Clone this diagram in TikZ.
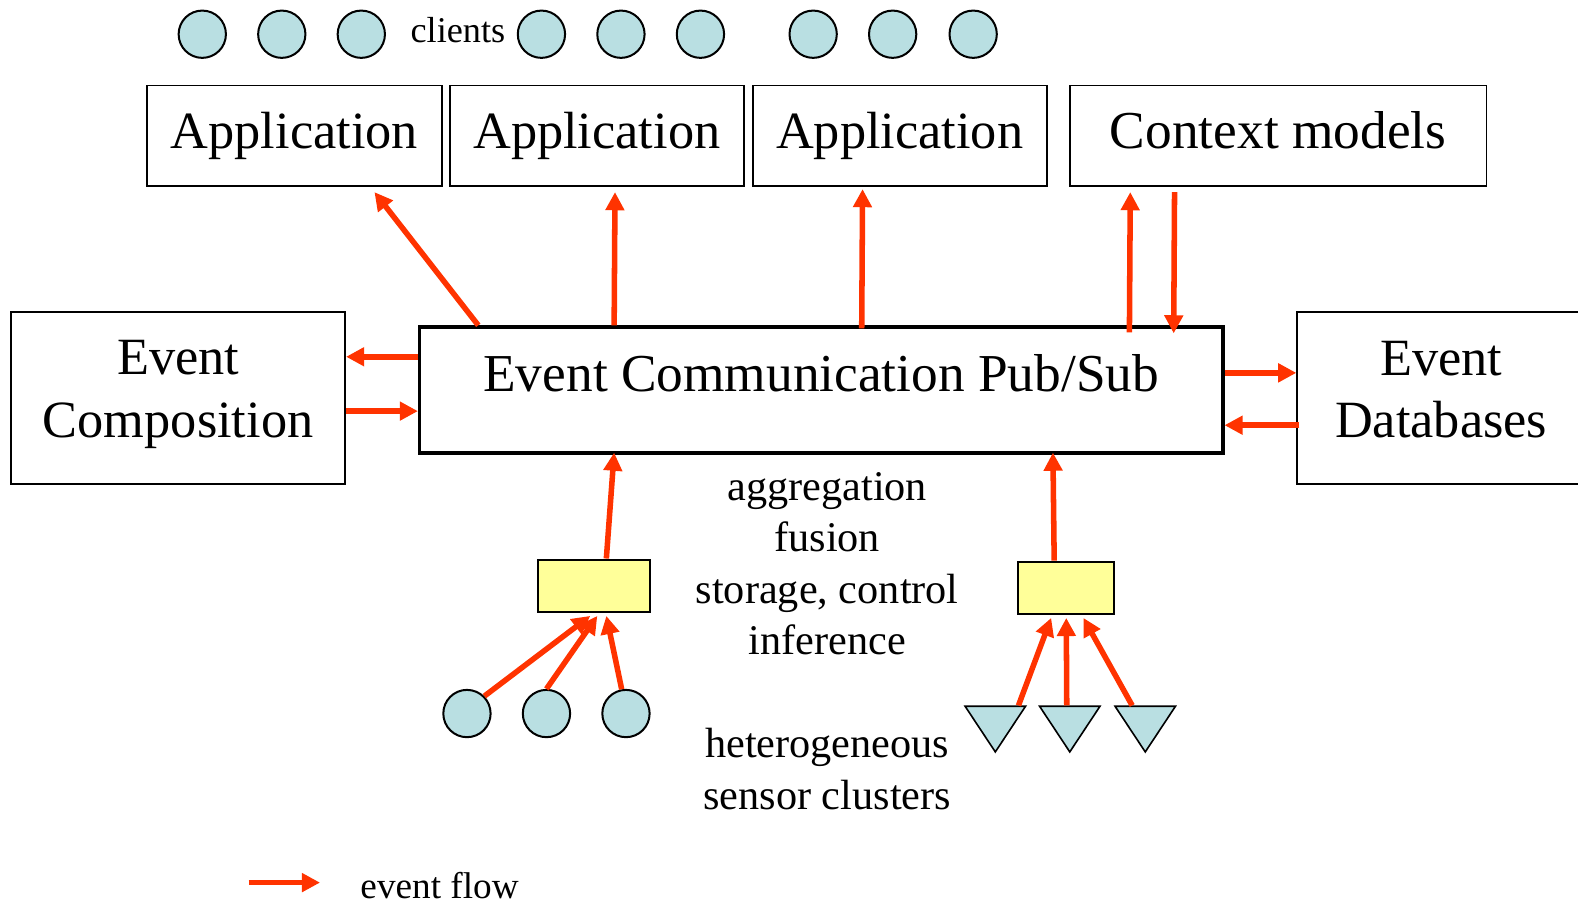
\documentclass[tikz,border=0pt]{standalone}
\usepackage{fontspec}
\setmainfont{Liberation Serif}
\usetikzlibrary{arrows.meta,shapes.geometric}
\definecolor{flowred}{RGB}{255,51,0}
\definecolor{clientblue}{RGB}{185,223,226}
\definecolor{aggyellow}{RGB}{255,255,153}
\begin{document}
\begin{tikzpicture}[x=1pt,y=-1pt,
  flow/.style={draw=flowred,line width=5.5pt,-{Triangle[length=18pt,width=18pt]}},
  client/.style={circle,draw=black,line width=2pt,fill=clientblue,minimum size=47pt,inner sep=0pt},
  sensor/.style={isosceles triangle,isosceles triangle apex angle=67,shape border rotate=-90,draw=black,line width=1.6pt,fill=clientblue,minimum width=60pt,minimum height=45pt,inner sep=0pt,anchor=north},
  agg/.style={draw=black,line width=2pt,fill=aggyellow,inner sep=0pt},
  bigbox/.style={draw=black,line width=1.8pt,inner sep=0pt,font=\fontsize{52}{64}\selectfont,align=center},
  appbox/.style={bigbox,minimum height=100pt,text height=36pt,text depth=11pt},
  lbl/.style={inner sep=0pt,align=center}]
\useasboundingbox (0,0) rectangle (1568,898);
% clients
\foreach \x/\n in {201/c1,280/c2,359/c3,538/c4,617/c5,696/c6,808/c7,887/c8,967/c9}
  \node[client] (\n) at (\x,34) {};
\node[lbl,font=\fontsize{36}{40}\selectfont] (clients) at (455,30) {clients};
% applications
\node[appbox,minimum width=293pt] (a1) at (292.5,135) {Application};
\node[appbox,minimum width=292pt] (a2) at (593,135) {Application};
\node[appbox,minimum width=292pt] (a3) at (894,135) {Application};
\node[appbox,minimum width=414pt,font=\fontsize{53}{64}\selectfont] (ctx) at (1270,135) {Context models};
% side boxes
\node[bigbox,minimum width=332pt,minimum height=171pt] (comp) at (177,395.5) {};
\node[lbl,font=\fontsize{52}{64}\selectfont] (comptext) at (177,392) {Event\\[-2pt]Composition};
\node[bigbox,minimum width=330pt,minimum height=171pt] (db) at (1454,395.5) {};
\node[lbl,font=\fontsize{52}{64}\selectfont] (dbtext) at (1432,387) {Event\\[-2pt]Databases};
% pub/sub
\node[draw=black,line width=3.5pt,minimum width=798pt,minimum height=125pt,inner sep=0pt] (pub) at (816,387.5) {};
\node[lbl,font=\fontsize{53}{60}\selectfont] (pubtext) at (816,371) {Event Communication Pub/Sub};
% aggregators
\node[agg,minimum width=111pt,minimum height=52pt] (y1) at (590.5,582) {};
\node[agg,minimum width=95pt,minimum height=52pt] (y2) at (1059.5,584) {};
% bottom clients
\node[client] (b1) at (464,709) {};
\node[client] (b2) at (543,709) {};
\node[client] (b3) at (622,709) {};
% sensors
\node[sensor] (s1) at (989,701) {};
\node[sensor] (s2) at (1063,701) {};
\node[sensor] (s3) at (1138,701) {};
% texts
\node[lbl,font=\fontsize{42}{51}\selectfont] (proc) at (822,560) {aggregation\\fusion\\storage, control\\inference};
\node[lbl,font=\fontsize{42}{51}\selectfont] (het) at (822,764) {heterogeneous\\sensor clusters};
% arrows up to apps
\draw[flow] ([xshift=60]pub.north west) -- ([xshift=227,yshift=-5]a1.south west);
\draw[flow] ([xshift=195]pub.north west) -- ([xshift=165,yshift=-5]a2.south west);
\draw[flow] ([xshift=441,yshift=-3]pub.north west) -- ([xshift=110,yshift=-2]a3.south west);
\draw[flow] ([xshift=707,yshift=-7]pub.north west) -- ([xshift=61,yshift=-5]ctx.south west);
\draw[flow] ([xshift=105,yshift=-5]ctx.south west) -- ([xshift=751,yshift=-8]pub.north west);
% side arrows
\draw[flow] ([yshift=33]pub.west) -- ([yshift=33]pub.west -| comp.east);
\draw[flow] ([yshift=-13]comp.east) -- ([yshift=-13]comp.east -| pub.west);
\draw[flow] ([yshift=17]pub.east) -- ([yshift=17]pub.east -| db.west);
\draw[flow] ([yshift=-27,xshift=3]db.west) -- ([yshift=-27]db.west -| pub.east);
% aggregators to pub
\draw[flow] ([xshift=12]y1.north) -- ([xshift=195,yshift=2]pub.south west);
\draw[flow] ([xshift=-12]y2.north) -- ([xshift=631,yshift=2]pub.south west);
% clients to y1
\draw[flow] (b1.45) -- ([xshift=-4,yshift=-3]y1.south);
\draw[flow] (b2.north) -- ([xshift=3,yshift=-3]y1.south);
\draw[flow] (b3.100) -- ([xshift=12,yshift=-3]y1.south);
% sensors to y2
\draw[flow] ([xshift=23]s1.north) -- ([xshift=-15,yshift=-3]y2.south);
\draw[flow] ([xshift=-3]s2.north) -- ([xshift=0,yshift=-3]y2.south);
\draw[flow] ([xshift=-13]s3.north) -- ([xshift=17,yshift=-3]y2.south);
% legend
\coordinate (legA) at (247,877);
\coordinate (legB) at (318,877);
\draw[flow] (legA) -- (legB);
\node[lbl,font=\fontsize{37}{40}\selectfont,anchor=west] (legtext) at (358,880) {event flow};
\end{tikzpicture}
\end{document}
